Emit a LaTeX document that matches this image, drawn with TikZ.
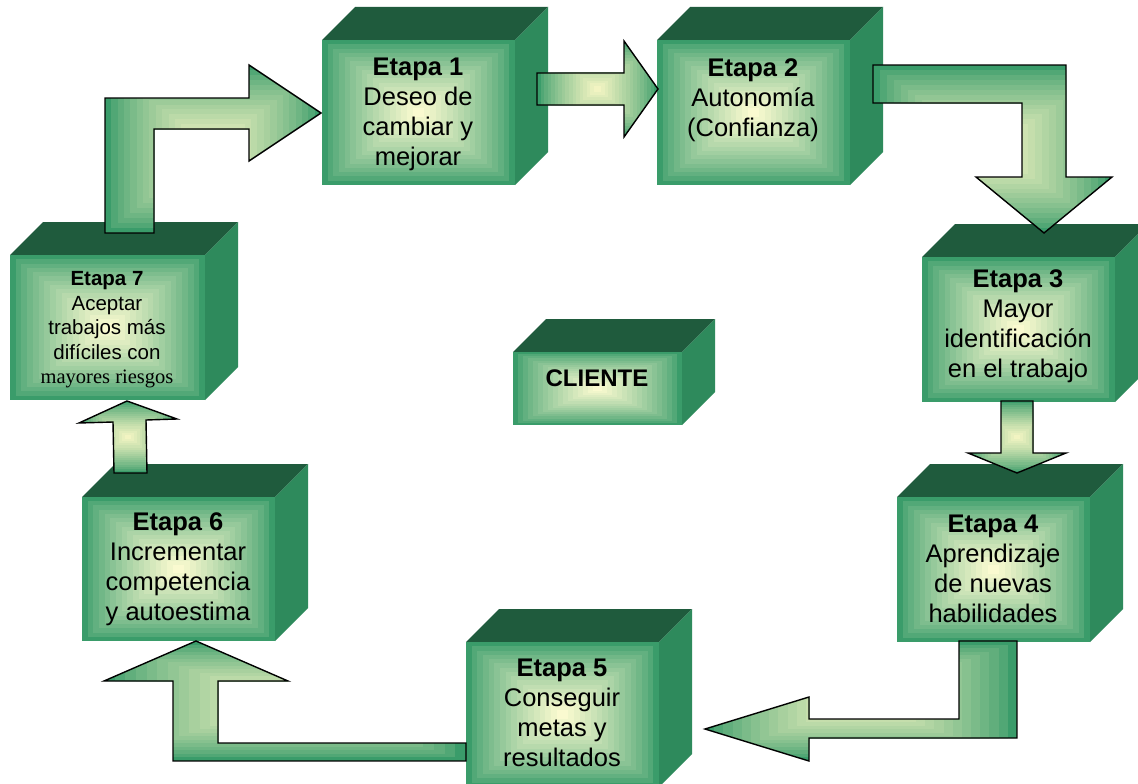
\documentclass[tikz,border=0pt]{standalone}
\usepackage{fontspec}
\setmainfont{Liberation Sans}
\newfontfamily\timesf{Liberation Serif}
\definecolor{topgreen}{RGB}{31,91,61}
\definecolor{sidegreen}{RGB}{46,138,92}
\definecolor{fgreen}{RGB}{58,156,106}
\definecolor{fpale}{RGB}{250,250,208}
\definecolor{agreen}{RGB}{58,156,106}
\definecolor{apale}{RGB}{242,244,194}
% nested-rectangle gradient: x1,y1,x2,y2,outer colour,inner colour
\newcommand{\gradfill}[6]{%
  \foreach \i in {0,...,16}{%
    \pgfmathsetmacro{\gdx}{\i*((#3)-(#1))/34}%
    \pgfmathsetmacro{\gdy}{\i*((#4)-(#2))/34}%
    \pgfmathsetmacro{\gp}{100*(\i/16)^0.75}%
    \fill[#6!\gp!#5] ({#1+\gdx},{#2+\gdy}) rectangle ({#3-\gdx},{#4-\gdy});
  }}
% 3D box: front face x1,y1,x2,y2
\newcommand{\cube}[4]{%
  \fill[topgreen] (#1,#2) -- (#1+33,#2-33) -- (#3+33,#2-33) -- (#3,#2) -- cycle;
  \fill[sidegreen] (#3,#2) -- (#3+33,#2-33) -- (#3+33,#4-33) -- (#3,#4) -- cycle;
  \gradfill{#1}{#2}{#3}{#4}{fgreen}{fpale}}
% block arrow: bbox x1,y1,x2,y2, path
\newcommand{\blockarrow}[5]{%
  \begin{scope}
    \clip #5;
    \gradfill{#1}{#2}{#3}{#4}{agreen}{apale}
  \end{scope}
  \draw[arrowline] #5;}
\tikzset{
  arrowline/.style={draw=black, line width=1.4pt, line join=miter},
  lbl/.style={align=center, inner sep=0pt, text=black, font=\fontsize{25.5}{30}\selectfont},
  lblsmall/.style={align=center, inner sep=0pt, text=black, font=\fontsize{20.5}{24.5}\selectfont},
  lblc/.style={inner sep=0pt, text=black, font=\fontsize{24}{28}\selectfont\bfseries}
}
\begin{document}
\begin{tikzpicture}[x=1pt,y=-1pt]
\useasboundingbox (0,0) rectangle (1138,784);
\clip (0,0) rectangle (1138,784);
\fill[white] (0,0) rectangle (1138,784);

% boxes
\cube{322}{40}{515}{185}
\cube{657}{40}{850}{185}
\cube{922}{257}{1115}{402}
\cube{897}{497}{1090}{642}
\cube{466}{642}{659}{787}
\cube{82}{497}{275}{641}
\cube{10}{255}{205}{400}
\cube{513}{352}{682}{425}

% arrows
\blockarrow{537}{41}{658}{137}{(537,73) -- (624,73) -- (624,41) -- (658,89) -- (624,137) -- (624,105) -- (537,105) -- cycle}
\blockarrow{873}{65}{1112}{233}{(873,65) -- (1066,65) -- (1066,177) -- (1112,177) -- (1044,233) -- (976,177) -- (1022,177) -- (1022,103) -- (873,103) -- cycle}
\blockarrow{968}{401}{1066}{473}{(1001,401) -- (1033,401) -- (1033,453) -- (1066,453) -- (1017,473) -- (968,453) -- (1001,453) -- cycle}
\blockarrow{705}{641}{1017}{761}{(959,641) -- (1017,641) -- (1017,738) -- (809,738) -- (809,761) -- (705,729) -- (809,697) -- (809,719) -- (959,719) -- cycle}
\blockarrow{104}{641}{466}{761}{(466,743) -- (466,761) -- (173,761) -- (173,681) -- (104,681) -- (196,641) -- (288,681) -- (218,681) -- (218,743) -- cycle}
\blockarrow{79}{401}{177}{473}{(114,473) -- (147,473) -- (146,420) -- (177,419) -- (127,401) -- (79,423) -- (113,422) -- cycle}
\blockarrow{105}{65}{321}{233}{(105,233) -- (105,98) -- (249,98) -- (249,65) -- (321,113) -- (249,161) -- (249,129) -- (154,129) -- (154,233) -- cycle}

% texts
\node[lbl] (e1) at (418,114) {\textbf{Etapa 1}\\Deseo de\\cambiar y\\mejorar};
\node[lbl] (e2) at (753,100) {\textbf{Etapa 2}\\Autonomía\\(Confianza)};
\node[lbl] (e3) at (1018,326) {\textbf{Etapa 3}\\Mayor\\identificación\\en el trabajo};
\node[lbl] (e4) at (993,569) {\textbf{Etapa 4}\\Aprendizaje\\de nuevas\\habilidades};
\node[lbl] (e5) at (562,713) {\textbf{Etapa 5}\\Conseguir\\metas y\\resultados};
\node[lbl] (e6) at (178,569) {\textbf{Etapa 6}\\Incrementar\\competencia\\y autoestima};
\node[lblsmall] (e7) at (107,330) {\textbf{Etapa 7}\\Aceptar\\trabajos más\\difíciles con\\{\timesf mayores riesgos}};
\node[lblc] (cliente) at (597,378) {CLIENTE};
\end{tikzpicture}
\end{document}
